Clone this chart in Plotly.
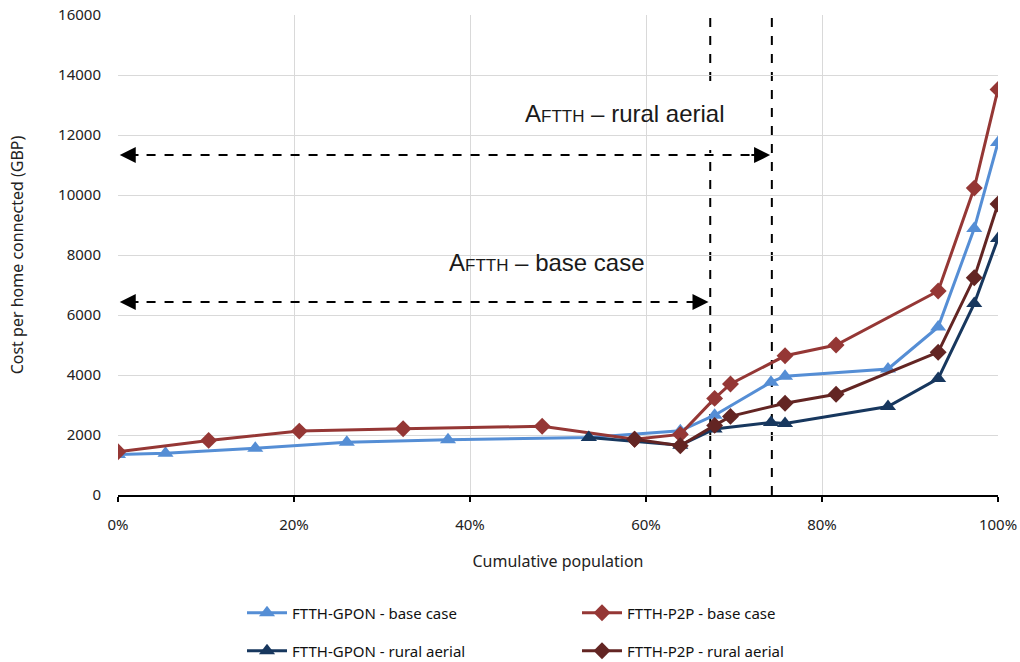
import plotly.graph_objects as go

# ---------------- data ----------------
gpon_base_x = [0.0, 0.054, 0.156, 0.26, 0.375, 0.535, 0.639, 0.678, 0.742, 0.758, 0.875, 0.932, 0.973, 1.0]
gpon_base_y = [1350, 1390, 1560, 1760, 1840, 1920, 2140, 2660, 3760, 3960, 4200, 5600, 8880, 11750]

p2p_base_x = [0.0, 0.103, 0.206, 0.324, 0.482, 0.587, 0.639, 0.678, 0.696, 0.758, 0.816, 0.932, 0.973, 1.0]
p2p_base_y = [1440, 1820, 2130, 2210, 2290, 1860, 2020, 3220, 3700, 4640, 5000, 6800, 10230, 13520]

gpon_rural_x = [0.535, 0.639, 0.678, 0.742, 0.758, 0.875, 0.932, 0.973, 1.0]
gpon_rural_y = [1920, 1660, 2200, 2420, 2380, 2950, 3880, 6380, 8550]

p2p_rural_x = [0.587, 0.639, 0.678, 0.696, 0.758, 0.816, 0.932, 0.973, 1.0]
p2p_rural_y = [1860, 1640, 2320, 2620, 3060, 3360, 4760, 7240, 9700]

series_names = ["FTTH-GPON - base case", "FTTH-P2P - base case",
                "FTTH-GPON - rural aerial", "FTTH-P2P - rural aerial"]

aftth_base = 0.673      # A_FTTH base case (cumulative population)
aftth_rural = 0.743     # A_FTTH rural aerial
arrow_base_y = 6430
arrow_rural_y = 11330

x_ticks = [0, 0.2, 0.4, 0.6, 0.8, 1.0]
x_tick_labels = ["0%", "20%", "40%", "60%", "80%", "100%"]
y_ticks = [0, 2000, 4000, 6000, 8000, 10000, 12000, 14000, 16000]
y_tick_labels = ["0", "2000", "4000", "6000", "8000", "10000", "12000", "14000", "16000"]

# ---------------- styling ----------------
C_LB = "#558ED5"
C_RED = "#953735"
C_DB = "#17375E"
C_DR = "#632523"
FONT = "Noto Sans"

fig = go.Figure()

def add(x, y, name, color, symbol, size, legend):
    fig.add_trace(go.Scatter(
        x=x, y=y, name=name, mode="lines+markers",
        line=dict(color=color, width=3),
        marker=dict(symbol=symbol, size=size, color=color),
        legend=legend,
    ))

add(gpon_base_x, gpon_base_y, series_names[0], C_LB, "triangle-up", 14, "legend")
add(p2p_base_x, p2p_base_y, series_names[1], C_RED, "diamond", 13, "legend")
add(gpon_rural_x, gpon_rural_y, series_names[2], C_DB, "triangle-up", 14, "legend2")
add(p2p_rural_x, p2p_rural_y, series_names[3], C_DR, "diamond", 13, "legend2")

shapes = []
for xv in (aftth_base, aftth_rural):
    shapes.append(dict(type="line", xref="x", yref="paper", x0=xv, x1=xv, y0=0, y1=1,
                       line=dict(color="black", width=2, dash="dash"), layer="between"))
shapes.append(dict(type="rect", xref="paper", yref="paper",
                   x0=(507 - 118) / 880, x1=(760 - 118) / 880,
                   y0=(495 - 150) / 480, y1=(495 - 82) / 480,
                   fillcolor="white", line=dict(width=0), layer="between"))
shapes.append(dict(type="rect", xref="paper", yref="paper",
                   x0=(432 - 118) / 880, x1=(687 - 118) / 880,
                   y0=(495 - 296) / 480, y1=(495 - 237) / 480,
                   fillcolor="white", line=dict(width=0), layer="between"))
for yv, xr in ((arrow_rural_y, aftth_rural), (arrow_base_y, aftth_base)):
    shapes.append(dict(type="line", xref="x", yref="y", x0=0.012, x1=xr - 0.012, y0=yv, y1=yv,
                       line=dict(color="black", width=2, dash="dash"), layer="between"))

annotations = []
for yv, xr in ((arrow_rural_y, aftth_rural), (arrow_base_y, aftth_base)):
    for tip, tail in ((0.002, 0.025), (xr - 0.002, xr - 0.025)):
        annotations.append(dict(x=tip, y=yv, ax=tail, ay=yv, xref="x", yref="y",
                                axref="x", ayref="y", text="", showarrow=True,
                                arrowhead=2, arrowsize=1.6, arrowwidth=2,
                                arrowcolor="black", standoff=0))
label_font = dict(family="Liberation Sans", size=24, color="#1a1a1a")
annotations.append(dict(xref="paper", yref="paper", x=(625 - 118) / 880, y=(495 - 113) / 480,
                        text='A<span style="font-size:17px">FTTH</span> – rural aerial',
                        showarrow=False, font=label_font, xanchor="center", yanchor="middle"))
annotations.append(dict(xref="paper", yref="paper", x=(547 - 118) / 880, y=(495 - 262) / 480,
                        text='A<span style="font-size:17px">FTTH</span> – base case',
                        showarrow=False, font=label_font, xanchor="center", yanchor="middle"))

legend_common = dict(orientation="h", xref="container", yref="container",
                     xanchor="left", yanchor="middle", entrywidth=280, entrywidthmode="pixels",
                     font=dict(family=FONT, size=15, color="#111111"), itemwidth=40,
                     bgcolor="rgba(0,0,0,0)", borderwidth=0)

W, H = 1020, 662
fig.update_layout(
    width=W, height=H,
    margin=dict(l=118, r=W - 998, t=15, b=H - 495, autoexpand=False),
    paper_bgcolor="white", plot_bgcolor="white",
    font=dict(family=FONT, size=15, color="#222222"),
    shapes=shapes, annotations=annotations,
    showlegend=True,
    legend=dict(legend_common, x=242 / W, y=(H - 613) / H),
    legend2=dict(legend_common, x=242 / W, y=(H - 651) / H),
)

fig.update_xaxes(
    range=[0, 1], tickvals=x_ticks, ticktext=x_tick_labels,
    showgrid=True, gridcolor="#d9d9d9", gridwidth=1,
    showline=True, linecolor="black", linewidth=2,
    ticks="outside", ticklen=5, tickwidth=2, tickcolor="black",
    ticklabelstandoff=10,
    tickfont=dict(family=FONT, size=15, color="#222222"),
    title=dict(text="Cumulative population", font=dict(family=FONT, size=16, color="#222222"),
               standoff=23),
    zeroline=False,
)
fig.update_yaxes(
    range=[0, 16000.5], tickvals=y_ticks, ticktext=y_tick_labels,
    showgrid=True, gridcolor="#d9d9d9", gridwidth=1,
    showline=False, zeroline=False, ticks="",
    ticklabelstandoff=16,
    tickfont=dict(family=FONT, size=15, color="#222222"),
    title=dict(text="Cost per home connected (GBP)", font=dict(family=FONT, size=16, color="#222222"),
               standoff=30),
)

# remove the default 8px page margin so the figure fills the window exactly
fig.write_html("out.html", config={"displayModeBar": False},
               post_script="document.body.style.margin='0';document.body.style.overflow='hidden';")
